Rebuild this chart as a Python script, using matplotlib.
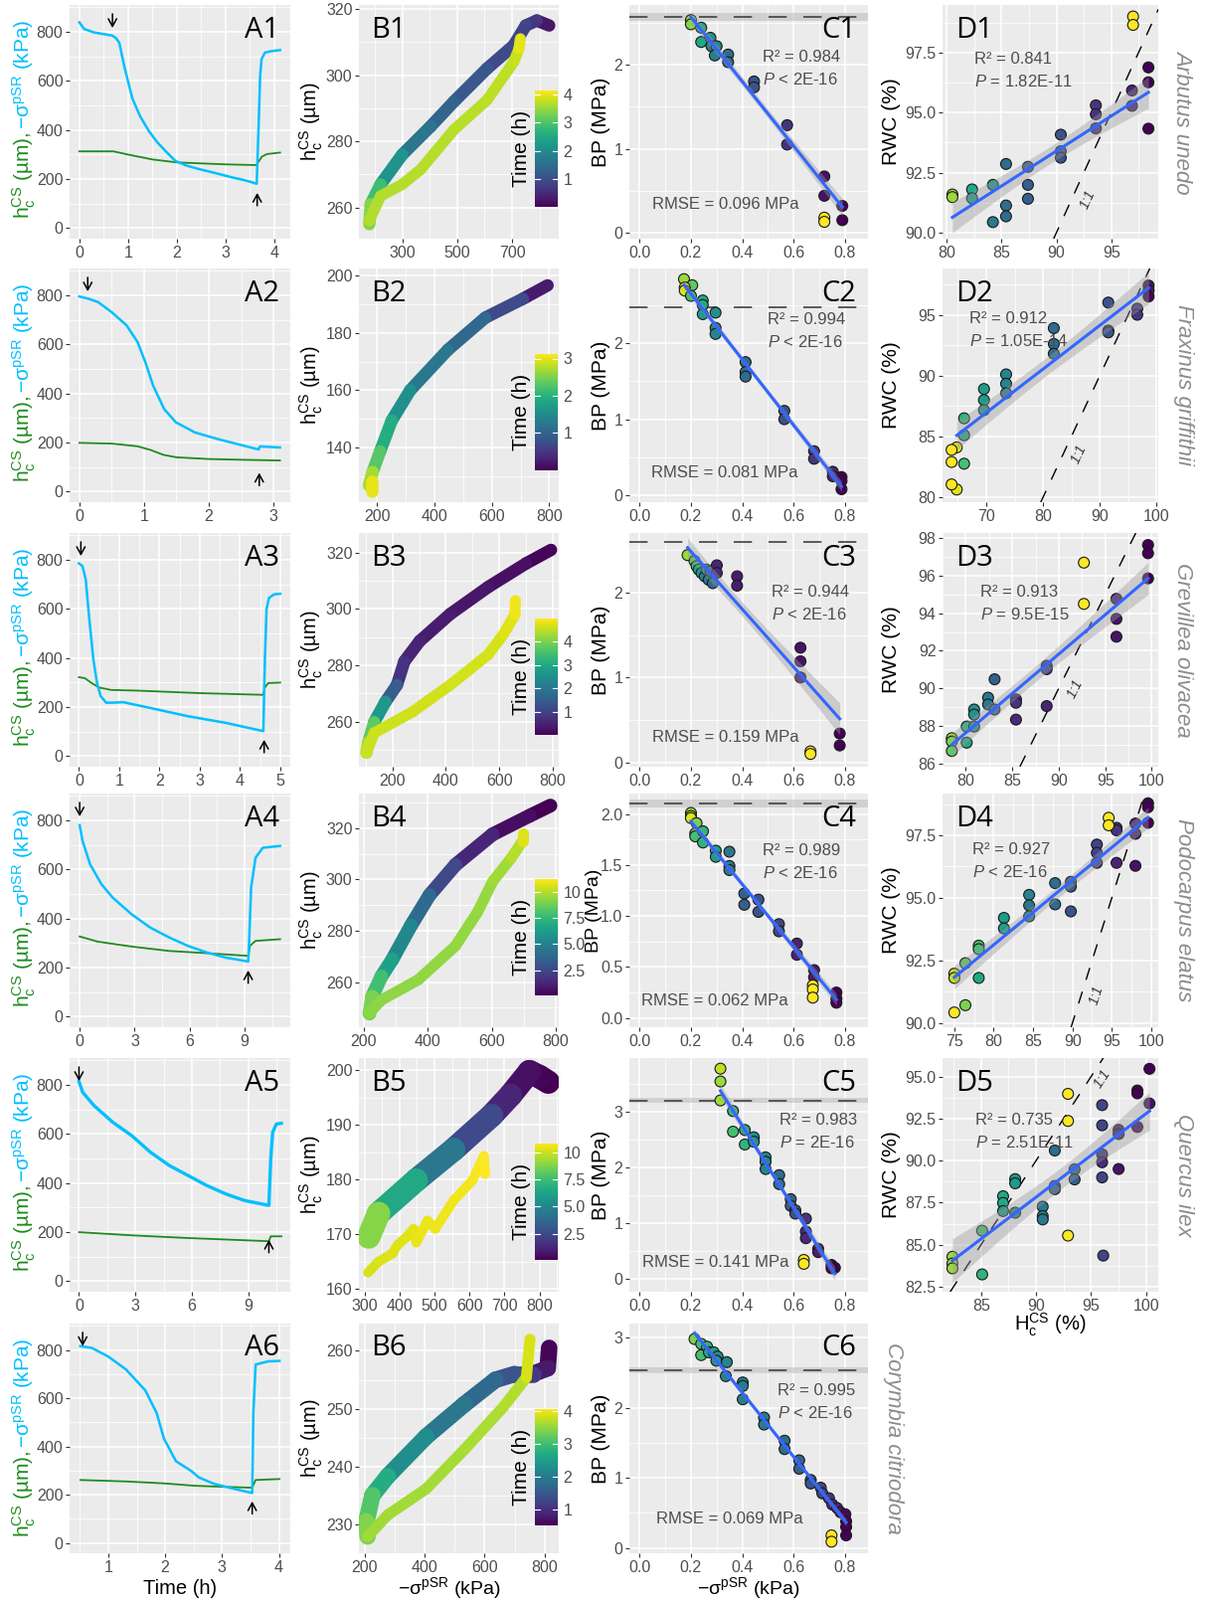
import numpy as np
import matplotlib
matplotlib.use('Agg')
import matplotlib.pyplot as plt
from matplotlib.collections import LineCollection
from matplotlib.colors import Normalize
from matplotlib.ticker import FixedLocator, FormatStrFormatter

plt.rcParams['font.family'] = ['Liberation Sans', 'DejaVu Sans']
plt.rcParams['mathtext.fontset'] = 'custom'
plt.rcParams['mathtext.rm'] = 'Liberation Sans'
plt.rcParams['mathtext.it'] = 'Liberation Sans:italic'
plt.rcParams['mathtext.bf'] = 'Liberation Sans:bold'

# ---------------- data: column A (time courses) ----------------
a1_sig_t = [0, 0.1, 0.3, 0.68, 0.75, 0.82, 0.92, 1.02, 1.09, 1.25, 1.43, 1.6, 1.77, 1.97, 2.2, 2.45, 2.8, 3.13, 3.4, 3.64, 3.68, 3.71, 3.74, 3.81, 3.95, 4.12]
a1_sig = [839, 812, 798, 785, 775, 756, 662, 582, 528, 455, 395, 350, 314, 274, 255, 241, 224, 207, 195, 181, 420, 620, 689, 716, 722, 726]
a1_h_t = [0, 0.7, 1.0, 1.5, 2.0, 3.0, 3.64, 3.68, 3.75, 3.85, 4.12]
a1_h = [313, 313, 300, 280, 268, 260, 257, 272, 292, 302, 308]

a2_sig_t = [0, 0.15, 0.29, 0.5, 0.73, 0.9, 1.02, 1.14, 1.31, 1.49, 1.78, 2.13, 2.53, 2.77, 2.79, 2.82, 3.1]
a2_sig = [796, 786, 773, 732, 678, 610, 528, 433, 337, 283, 242, 215, 188, 172, 184, 184, 180]
a2_h_t = [0, 0.5, 0.9, 1.1, 1.3, 1.5, 2.0, 2.5, 3.1]
a2_h = [199, 196, 185, 170, 150, 140, 133, 130, 127]

a3_sig_t = [0, 0.09, 0.17, 0.26, 0.36, 0.45, 0.54, 0.68, 0.83, 1.1, 1.76, 2.7, 3.64, 4.58, 4.62, 4.66, 4.72, 4.85, 5.0]
a3_sig = [786, 775, 721, 558, 395, 299, 245, 218, 218, 220, 197, 163, 136, 102, 400, 600, 645, 660, 662]
a3_h_t = [0, 0.15, 0.3, 0.5, 0.8, 1.5, 3.0, 4.58, 4.62, 4.7, 5.0]
a3_h = [322, 318, 300, 280, 270, 267, 257, 250, 280, 298, 300]

a4_sig_t = [0, 0.16, 0.57, 1.19, 1.81, 2.83, 3.86, 4.89, 5.9, 6.94, 7.97, 9.2, 9.24, 9.36, 9.6, 10.0, 10.94]
a4_sig = [781, 716, 621, 540, 485, 418, 363, 323, 289, 262, 241, 225, 282, 526, 648, 689, 696]
a4_h_t = [0, 0.99, 2.83, 4.89, 6.94, 9.2, 9.3, 9.6, 10.94]
a4_h = [327, 306, 286, 268, 259, 248, 289, 309, 316]

a5_sig_t = [0, 0.2, 0.8, 1.8, 2.8, 3.8, 4.8, 5.8, 6.8, 7.8, 8.8, 10.1, 10.2, 10.3, 10.5, 10.76]
a5_sig = [814, 770, 716, 648, 594, 526, 472, 431, 390, 356, 329, 309, 499, 607, 641, 644]
a5_h_t = [0, 2.8, 5.8, 8.8, 10.1, 10.2, 10.76]
a5_h = [200, 187, 176, 167, 163, 183, 183]

a6_sig_t = [0.51, 0.71, 1.0, 1.31, 1.65, 1.85, 1.98, 2.19, 2.46, 2.59, 2.86, 3.2, 3.53, 3.55, 3.59, 3.81, 4.01]
a6_sig = [816, 809, 773, 720, 633, 539, 432, 339, 298, 272, 245, 225, 207, 539, 740, 753, 755]
a6_h_t = [0.51, 1.31, 1.98, 2.52, 3.12, 3.53, 3.59, 4.01]
a6_h = [261, 255, 247, 237, 232, 229, 261, 265]

# arrows: start of drying (down) and rewatering (up), in h
a_arrow_down_t = [0.68, 0.13, 0.05, 0.0, 0.0, 0.55]
a_arrow_up_t = [3.65, 2.78, 4.6, 9.2, 10.1, 3.53]
a_arrow_up_tip = [155, 88, 78, 200, 180, 184]

# ---------------- data: column B (h vs sigma, coloured by time) ----------------
b1_dry_x = [835, 790, 750, 706, 609, 488, 403, 300, 221, 185, 180]
b1_dry_y = [315, 316.5, 315, 309, 302, 292, 284.5, 276, 267, 261, 255]
b1_dry_t = [0.0, 0.5, 0.82, 0.88, 1.0, 1.25, 1.43, 1.8, 2.5, 3.2, 3.6]
b1_wet_x = [180, 221, 300, 367, 488, 609, 706, 725, 730]
b1_wet_y = [256, 263.5, 267, 271.5, 283.5, 292.5, 304, 308, 311]
b1_wet_t = [3.64, 3.66, 3.68, 3.69, 3.7, 3.72, 3.75, 3.85, 4.1]

b2_dry_x = [794, 708, 577, 446, 315, 250, 210, 184, 171]
b2_dry_y = [196.7, 192, 185.4, 174.1, 160, 149.3, 138.6, 131.4, 126.7]
b2_dry_t = [0.0, 0.45, 0.95, 1.14, 1.35, 1.75, 2.1, 2.5, 2.9]
b2_wet_x = [180, 180]
b2_wet_y = [128, 124.5]
b2_wet_t = [2.9, 3.1]

b3_dry_x = [793, 700, 558, 416, 302, 245, 217, 174, 132, 110, 103]
b3_dry_y = [321, 316.2, 307.8, 298.2, 288.6, 281.4, 273, 267, 259.8, 252.6, 249]
b3_dry_t = [0.0, 0.15, 0.26, 0.35, 0.45, 0.54, 0.9, 2.0, 3.3, 4.2, 4.55]
b3_wet_x = [103, 132, 274, 345, 416, 558, 615, 658, 660]
b3_wet_y = [249, 256, 263.4, 268.2, 273, 283.8, 291, 298, 303]
b3_wet_t = [4.6, 4.61, 4.63, 4.64, 4.65, 4.67, 4.7, 4.8, 5.0]

b4_dry_x = [783, 719, 603, 487, 406, 348, 290, 256, 227, 219]
b4_dry_y = [328.8, 324.9, 317.6, 305.7, 293.9, 282, 268.8, 262.2, 254.3, 247.7]
b4_dry_t = [0.1, 0.15, 0.8, 1.8, 3.2, 4.7, 5.9, 7.0, 8.7, 9.2]
b4_wet_x = [219, 256, 371, 487, 556, 603, 661, 696, 696]
b4_wet_y = [248, 253, 260.9, 274.1, 287.3, 299.2, 308.4, 315, 318]
b4_wet_t = [9.25, 9.28, 9.32, 9.36, 9.4, 9.5, 9.7, 10.2, 11.0]

b5_dry_x = [825, 800, 771, 717, 663, 555, 448, 340, 312]
b5_dry_y = [197.8, 198.8, 199.7, 195.4, 191.7, 185.5, 179.9, 173.8, 169.5]
b5_dry_t = [0.1, 0.15, 0.3, 0.8, 1.6, 3.4, 5.3, 7.7, 10.0]
b5_wet_x = [310, 340, 380, 394, 420, 440, 448, 480, 502, 555, 609, 641, 645]
b5_wet_y = [163, 165, 166.5, 168, 169.5, 171, 168.5, 172.5, 171, 176.2, 179.9, 184.3, 181]
b5_wet_t = [10.1, 10.15, 10.2, 10.25, 10.3, 10.35, 10.4, 10.45, 10.5, 10.55, 10.6, 10.7, 10.8]

b6_dry_x = [815, 810, 760, 700, 636, 533, 405, 277, 226, 206, 210]
b6_dry_y = [260.5, 257, 256, 256, 255, 250.8, 245.2, 238.4, 235.1, 230.6, 228]
b6_dry_t = [0.51, 0.6, 0.9, 1.3, 1.6, 1.85, 2.0, 2.5, 2.9, 3.3, 3.5]
b6_wet_x = [210, 277, 405, 533, 662, 739, 751]
b6_wet_y = [228, 231.7, 236.2, 243, 250.3, 255.4, 262]
b6_wet_t = [3.55, 3.57, 3.58, 3.6, 3.63, 3.7, 4.0]

b_time_range = [(0, 4.15), (0, 3.12), (0, 5.0), (0.1, 11.2), (0.1, 10.8), (0.51, 4.07)]
b_cbar_ticks = [[1, 2, 3, 4], [1, 2, 3], [1, 2, 3, 4], [2.5, 5, 7.5, 10], [2.5, 5, 7.5, 10], [1, 2, 3, 4]]
b_cbar_labels = [['1', '2', '3', '4'], ['1', '2', '3'], ['1', '2', '3', '4'],
                 ['2.5', '5.0', '7.5', '10'], ['2.5', '5.0', '7.5', '10'], ['1', '2', '3', '4']]

# ---------------- data: column C (BP vs sigma) ----------------
# *_c = relative time colour (0 start, 1 end); *_xr/_yr = rewatered points, not in the fit
c1_x = [0.2, 0.2, 0.24, 0.24, 0.276, 0.28, 0.3, 0.293, 0.345, 0.345, 0.446, 0.446, 0.575, 0.575, 0.72, 0.72, 0.79, 0.79]
c1_y = [2.53, 2.48, 2.44, 2.27, 2.32, 2.22, 2.22, 2.11, 2.12, 2.03, 1.80, 1.73, 1.28, 1.05, 0.67, 0.44, 0.32, 0.15]
c1_c = [0.85, 0.82, 0.6, 0.6, 0.5, 0.45, 0.45, 0.42, 0.35, 0.33, 0.25, 0.25, 0.15, 0.15, 0.05, 0.05, 0.0, 0.0]
c1_xr = [0.72, 0.72]
c1_yr = [0.18, 0.13]

c2_x = [0.173, 0.205, 0.176, 0.176, 0.2, 0.246, 0.246, 0.246, 0.296, 0.296, 0.296, 0.413, 0.413, 0.413, 0.564, 0.564, 0.68, 0.68, 0.753, 0.753, 0.787, 0.787, 0.787]
c2_y = [2.84, 2.76, 2.73, 2.69, 2.62, 2.56, 2.5, 2.38, 2.4, 2.2, 2.12, 1.75, 1.62, 1.56, 1.11, 1.0, 0.58, 0.48, 0.31, 0.25, 0.24, 0.19, 0.08]
c2_c = [0.85, 0.75, 1.0, 0.95, 0.7, 0.6, 0.6, 0.55, 0.5, 0.45, 0.45, 0.35, 0.35, 0.35, 0.25, 0.25, 0.15, 0.15, 0.1, 0.1, 0.0, 0.0, 0.0]
c2_xr = []
c2_yr = []

c3_x = [0.187, 0.214, 0.222, 0.23, 0.241, 0.254, 0.261, 0.269, 0.277, 0.285, 0.301, 0.301, 0.38, 0.38, 0.627, 0.627, 0.627, 0.78, 0.78]
c3_y = [2.44, 2.37, 2.31, 2.27, 2.23, 2.19, 2.27, 2.15, 2.25, 2.11, 2.32, 2.23, 2.19, 2.08, 1.35, 1.19, 1.0, 0.34, 0.2]
c3_c = [0.85, 0.75, 0.7, 0.6, 0.55, 0.45, 0.45, 0.4, 0.35, 0.35, 0.1, 0.12, 0.08, 0.08, 0.05, 0.05, 0.08, 0.0, 0.0]
c3_xr = [0.666, 0.666]
c3_yr = [0.13, 0.1]

c4_x = [0.2, 0.2, 0.2, 0.222, 0.217, 0.217, 0.247, 0.247, 0.297, 0.297, 0.35, 0.35, 0.35, 0.408, 0.408, 0.463, 0.463, 0.543, 0.543, 0.613, 0.613, 0.68, 0.68, 0.767, 0.767, 0.767]
c4_y = [2.01, 1.98, 1.96, 1.91, 1.81, 1.78, 1.83, 1.72, 1.64, 1.58, 1.63, 1.49, 1.45, 1.22, 1.11, 1.16, 1.04, 0.92, 0.85, 0.73, 0.62, 0.47, 0.4, 0.25, 0.19, 0.15]
c4_c = [0.85, 0.9, 0.95, 0.8, 0.75, 0.7, 0.65, 0.65, 0.55, 0.55, 0.4, 0.4, 0.4, 0.3, 0.3, 0.25, 0.25, 0.2, 0.2, 0.1, 0.1, 0.07, 0.07, 0.0, 0.0, 0.0]
c4_xr = [0.675, 0.675, 0.675]
c4_yr = [0.32, 0.28, 0.2]

c5_x = [0.315, 0.315, 0.315, 0.364, 0.364, 0.41, 0.41, 0.445, 0.445, 0.491, 0.491, 0.491, 0.544, 0.544, 0.589, 0.589, 0.607, 0.607, 0.648, 0.648, 0.648, 0.696, 0.696, 0.748, 0.761, 0.748]
c5_y = [3.77, 3.54, 3.2, 3.01, 2.64, 2.67, 2.41, 2.54, 2.46, 2.18, 2.1, 1.97, 1.86, 1.7, 1.43, 1.31, 1.23, 1.17, 1.08, 0.85, 0.73, 0.54, 0.48, 0.25, 0.2, 0.19]
c5_c = [0.9, 0.85, 0.85, 0.65, 0.7, 0.6, 0.65, 0.5, 0.5, 0.45, 0.45, 0.45, 0.35, 0.35, 0.3, 0.3, 0.25, 0.25, 0.15, 0.12, 0.12, 0.08, 0.08, 0.0, 0.0, 0.0]
c5_xr = [0.64, 0.64]
c5_yr = [0.34, 0.27]

c6_x = [0.214, 0.24, 0.24, 0.263, 0.27, 0.289, 0.304, 0.299, 0.34, 0.336, 0.402, 0.402, 0.402, 0.485, 0.485, 0.565, 0.565, 0.622, 0.622, 0.667, 0.667, 0.706, 0.712, 0.738, 0.751, 0.77, 0.783, 0.802, 0.805, 0.805, 0.805]
c6_y = [2.98, 2.91, 2.75, 2.87, 2.79, 2.79, 2.73, 2.67, 2.65, 2.45, 2.36, 2.31, 2.12, 1.86, 1.76, 1.53, 1.41, 1.25, 1.13, 0.97, 0.92, 0.86, 0.78, 0.71, 0.62, 0.57, 0.51, 0.48, 0.38, 0.3, 0.18]
c6_c = [0.8, 0.7, 0.7, 0.65, 0.6, 0.55, 0.5, 0.5, 0.45, 0.45, 0.42, 0.42, 0.42, 0.4, 0.4, 0.35, 0.35, 0.3, 0.3, 0.25, 0.25, 0.2, 0.2, 0.15, 0.12, 0.1, 0.05, 0.02, 0.0, 0.0, 0.0]
c6_xr = [0.748, 0.748]
c6_yr = [0.18, 0.09]

c_bp_line = [2.57, 2.47, 2.6, 2.1, 3.2, 2.53]
c_bp_band = [0.05, 0.0, 0.0, 0.04, 0.05, 0.04]
c_r2 = ['0.984', '0.994', '0.944', '0.989', '0.983', '0.995']
c_p = ['< 2E-16', '< 2E-16', '< 2E-16', '< 2E-16', '= 2E-16', '< 2E-16']
c_rmse = ['0.096', '0.081', '0.159', '0.062', '0.141', '0.069']

# ---------------- data: column D (RWC vs Hc) ----------------
d1_x = [80.5, 80.5, 82.3, 82.3, 84.2, 84.2, 85.4, 85.4, 85.4, 87.4, 87.4, 87.4, 90.4, 90.4, 90.4, 93.6, 93.6, 93.6, 96.9, 96.9, 98.4, 98.4, 98.4]
d1_y = [91.59, 91.48, 91.8, 91.43, 91.99, 90.44, 92.86, 91.13, 90.68, 92.74, 91.99, 91.41, 94.08, 93.39, 93.12, 95.3, 94.93, 94.34, 95.92, 95.28, 96.88, 96.26, 94.33]
d1_c = [0.85, 0.85, 0.6, 0.55, 0.5, 0.4, 0.35, 0.35, 0.35, 0.3, 0.3, 0.3, 0.25, 0.25, 0.25, 0.15, 0.15, 0.15, 0.1, 0.1, 0.0, 0.0, 0.0]
d1_xr = [97.0, 97.0]
d1_yr = [99.0, 98.65]

d2_x = [64.8, 64.8, 66.1, 66.1, 66.1, 69.6, 69.6, 69.6, 73.5, 73.5, 73.5, 81.9, 81.9, 81.9, 91.5, 91.5, 91.5, 96.6, 96.6, 98.6, 98.6, 98.6]
d2_y = [84.1, 80.64, 86.49, 85.1, 82.76, 88.9, 87.99, 87.16, 90.1, 89.33, 88.55, 93.9, 92.6, 91.8, 96.0, 93.7, 93.55, 95.5, 95.0, 97.4, 97.0, 96.5]
d2_c = [0.95, 0.95, 0.65, 0.6, 0.7, 0.55, 0.55, 0.5, 0.45, 0.45, 0.4, 0.35, 0.35, 0.35, 0.25, 0.25, 0.25, 0.15, 0.15, 0.05, 0.05, 0.0]
d2_xr = [63.9, 63.9, 63.9]
d2_yr = [83.9, 82.9, 81.06]

d3_x = [78.5, 78.5, 78.5, 80.1, 80.1, 80.9, 80.9, 80.9, 82.4, 82.4, 83.1, 83.1, 85.4, 85.4, 85.4, 88.7, 88.7, 88.7, 96.2, 96.2, 96.2, 99.6, 99.6, 99.6]
d3_y = [87.34, 87.16, 86.66, 87.96, 87.1, 88.87, 88.6, 87.96, 89.5, 89.14, 90.48, 88.87, 89.41, 89.23, 88.33, 91.2, 91.02, 89.05, 94.77, 93.7, 92.75, 97.64, 97.2, 95.86]
d3_c = [0.85, 0.8, 0.75, 0.65, 0.6, 0.5, 0.5, 0.5, 0.4, 0.4, 0.3, 0.35, 0.15, 0.15, 0.12, 0.2, 0.2, 0.1, 0.1, 0.05, 0.05, 0.0, 0.0, 0.0]
d3_xr = [92.7, 92.7]
d3_yr = [96.7, 94.5]

d4_x = [75.0, 75.0, 76.4, 76.4, 78.1, 78.1, 78.1, 81.3, 81.3, 84.5, 84.5, 84.5, 87.8, 87.8, 89.8, 89.8, 89.8, 93.1, 93.1, 93.1, 95.6, 95.6, 95.6, 98.0, 98.0, 98.0, 99.6, 99.6, 99.6]
d4_y = [91.97, 91.8, 92.39, 90.71, 93.09, 92.95, 91.8, 94.2, 93.78, 95.12, 94.7, 94.26, 95.59, 94.74, 95.64, 95.45, 94.46, 97.13, 96.8, 96.4, 97.8, 97.7, 96.4, 97.97, 97.56, 96.28, 98.78, 98.62, 98.0]
d4_c = [0.9, 0.9, 0.75, 0.8, 0.7, 0.7, 0.6, 0.55, 0.55, 0.45, 0.4, 0.4, 0.35, 0.35, 0.3, 0.3, 0.25, 0.2, 0.2, 0.2, 0.15, 0.15, 0.1, 0.1, 0.1, 0.05, 0.0, 0.0, 0.0]
d4_xr = [75.0, 94.6, 94.6]
d4_yr = [90.42, 98.2, 97.9]

d5_x = [82.4, 82.4, 82.4, 85.1, 85.1, 87.0, 87.0, 87.0, 88.1, 88.1, 88.1, 90.6, 90.6, 90.6, 91.7, 91.7, 91.7, 93.5, 93.5, 96.0, 96.0, 96.0, 96.0, 96.0, 96.1, 97.5, 97.5, 97.5, 99.2, 99.2, 99.2, 100.3, 100.3]
d5_y = [84.28, 83.88, 83.59, 85.83, 83.23, 87.88, 87.48, 87.0, 88.9, 88.65, 86.9, 87.26, 86.7, 86.5, 90.6, 88.49, 88.3, 89.48, 88.88, 93.3, 92.1, 90.37, 89.9, 89.0, 84.35, 91.83, 91.58, 89.5, 94.17, 94.0, 92.0, 95.46, 93.4]
d5_c = [0.85, 0.85, 0.85, 0.7, 0.65, 0.6, 0.6, 0.55, 0.55, 0.55, 0.45, 0.4, 0.4, 0.4, 0.35, 0.3, 0.3, 0.3, 0.3, 0.2, 0.2, 0.15, 0.12, 0.2, 0.2, 0.12, 0.12, 0.05, 0.0, 0.0, 0.05, 0.0, 0.05]
d5_xr = [92.9, 92.9, 92.9]
d5_yr = [93.97, 92.36, 85.54]

d_r2 = ['0.841', '0.912', '0.913', '0.927', '0.735']
d_p = ['= 1.82E-11', '= 1.05E-14', '= 9.5E-15', '< 2E-16', '= 2.51E-11']

species = ['Arbutus unedo', 'Fraxinus griffithii', 'Grevillea olivacea',
           'Podocarpus elatus', 'Quercus ilex', 'Corymbia citriodora']

# ---------------- layout (pixels) ----------------
W, H = 1212, 1609
col_left = [70, 361, 633, 948]
col_w = [222, 201, 240, 217]
row_top = [5, 270, 536, 798, 1064, 1331]
row_hs = [235, 235, 235, 235, 235, 231]

BLUE = '#00BFFF'
GREEN = '#1E8B1E'
TICKC = '#4D4D4D'
FIT = '#3366FF'

fig = plt.figure(figsize=(W / 100, H / 100), dpi=100)


def px_axes(left, top, w, h):
    return fig.add_axes([left / W, 1 - (top + h) / H, w / W, h / H])


def ftext(x, y, s, **kw):
    return fig.text(x / W, 1 - y / H, s, **kw)


def style(ax, xlim, ylim, xt, yt, xfmt=None, yfmt=None):
    ax.set_facecolor('#EBEBEB')
    for s in ax.spines.values():
        s.set_visible(False)
    ax.set_xlim(xlim)
    ax.set_ylim(ylim)
    xs = xt[1] - xt[0]
    ys = yt[1] - yt[0]
    ax.xaxis.set_major_locator(FixedLocator(xt))
    ax.yaxis.set_major_locator(FixedLocator(yt))
    ax.xaxis.set_minor_locator(FixedLocator(np.arange(xt[0] - xs / 2, xt[-1] + xs, xs)))
    ax.yaxis.set_minor_locator(FixedLocator(np.arange(yt[0] - ys / 2, yt[-1] + ys, ys)))
    if xfmt:
        ax.xaxis.set_major_formatter(FormatStrFormatter(xfmt))
    if yfmt:
        ax.yaxis.set_major_formatter(FormatStrFormatter(yfmt))
    ax.grid(which='major', color='white', lw=1.1)
    ax.grid(which='minor', color='white', lw=0.55)
    ax.set_axisbelow(True)
    ax.tick_params(which='major', length=3.2, width=0.8, color='#333333',
                   labelsize=11.5, labelcolor=TICKC, pad=1.5)
    ax.tick_params(which='minor', length=0)


def panel_label(ax, s, right):
    if right:
        ax.text(0.95, 0.955, s, transform=ax.transAxes, ha='right', va='top',
                fontsize=21, family='Open Sans')
    else:
        ax.text(0.06, 0.955, s, transform=ax.transAxes, ha='left', va='top',
                fontsize=21, family='Open Sans')


ARROW = dict(arrowstyle='->,head_width=0.3,head_length=0.55', color='black', lw=1.1)

# ---------------- column A ----------------
a_data = [(a1_sig_t, a1_sig, a1_h_t, a1_h), (a2_sig_t, a2_sig, a2_h_t, a2_h),
          (a3_sig_t, a3_sig, a3_h_t, a3_h), (a4_sig_t, a4_sig, a4_h_t, a4_h),
          (a5_sig_t, a5_sig, a5_h_t, a5_h), (a6_sig_t, a6_sig, a6_h_t, a6_h)]
a_xlim = [(-0.2, 4.33), (-0.15, 3.26), (-0.23, 5.25), (-0.55, 11.5), (-0.5, 11.24), (0.32, 4.2)]
a_xt = [[0, 1, 2, 3, 4], [0, 1, 2, 3], [0, 1, 2, 3, 4, 5], [0, 3, 6, 9], [0, 3, 6, 9], [1, 2, 3, 4]]

for i, (st, sv, ht, hv) in enumerate(a_data):
    ax = px_axes(col_left[0], row_top[i], col_w[0], row_hs[i])
    style(ax, a_xlim[i], (-43, 910), a_xt[i], [0, 200, 400, 600, 800])
    ax.plot(ht, hv, color=GREEN, lw=1.3)
    ax.plot(st, sv, color=BLUE, lw=1.8 if i != 4 else 2.4)
    ax.annotate('', xy=(a_arrow_down_t[i], 805), xytext=(a_arrow_down_t[i], 885), arrowprops=ARROW)
    ax.annotate('', xy=(a_arrow_up_t[i], a_arrow_up_tip[i]),
                xytext=(a_arrow_up_t[i], a_arrow_up_tip[i] - 75), arrowprops=ARROW)
    panel_label(ax, 'A%d' % (i + 1), True)
    ysplit = row_top[i] + 125
    ftext(30, ysplit, r'$\mathregular{h_c^{CS}}$ (µm), ', rotation=90, rotation_mode='anchor',
          ha='right', va='baseline', color=GREEN, fontsize=15)
    ftext(30, ysplit, '−σ$^{\\mathregular{pSR}}$ (kPa)', rotation=90, rotation_mode='anchor',
          ha='left', va='baseline', color=BLUE, fontsize=15)

XLAB_Y = 1603
ftext(181, XLAB_Y, 'Time (h)', ha='center', va='baseline', fontsize=14.5)

# ---------------- column B ----------------
b_data = [(b1_dry_x, b1_dry_y, b1_dry_t, b1_wet_x, b1_wet_y, b1_wet_t),
          (b2_dry_x, b2_dry_y, b2_dry_t, b2_wet_x, b2_wet_y, b2_wet_t),
          (b3_dry_x, b3_dry_y, b3_dry_t, b3_wet_x, b3_wet_y, b3_wet_t),
          (b4_dry_x, b4_dry_y, b4_dry_t, b4_wet_x, b4_wet_y, b4_wet_t),
          (b5_dry_x, b5_dry_y, b5_dry_t, b5_wet_x, b5_wet_y, b5_wet_t),
          (b6_dry_x, b6_dry_y, b6_dry_t, b6_wet_x, b6_wet_y, b6_wet_t)]
b_xlim = [(142, 870), (136, 833), (75, 822), (186, 809), (284, 855), (181, 847)]
b_ylim = [(250.6, 321.2), (120.8, 202.6), (244, 327), (242.4, 333.5), (159.5, 202.2), (225.1, 264.7)]
b_xt = [[300, 500, 700], [200, 400, 600, 800], [200, 400, 600, 800], [200, 400, 600, 800],
        [300, 400, 500, 600, 700, 800], [200, 400, 600, 800]]
b_yt = [[260, 280, 300, 320], [140, 160, 180, 200], [260, 280, 300, 320], [260, 280, 300, 320],
        [160, 170, 180, 190, 200], [230, 240, 250, 260]]
b_lw = [(9, 8), (9, 9), (9, 8), (10, 8), (17, 7), (12, 8)]


def band(ax, xs, ys, ts, lw, norm):
    pts = np.column_stack([xs, ys])
    segs = np.stack([pts[:-1], pts[1:]], axis=1)
    tt = np.asarray(ts, float)
    lc = LineCollection(segs, cmap='viridis', norm=norm, linewidths=lw,
                        capstyle='round', joinstyle='round')
    lc.set_array((tt[:-1] + tt[1:]) / 2)
    ax.add_collection(lc)


for i, (dx, dy, dt, wx, wy, wt) in enumerate(b_data):
    ax = px_axes(col_left[1], row_top[i], col_w[1], row_hs[i])
    style(ax, b_xlim[i], b_ylim[i], b_xt[i], b_yt[i])
    norm = Normalize(*b_time_range[i])
    band(ax, dx, dy, dt, b_lw[i][0], norm)
    band(ax, wx, wy, wt, b_lw[i][1], norm)
    panel_label(ax, 'B%d' % (i + 1), False)
    ftext(313, row_top[i] + row_hs[i] / 2, r'$\mathregular{h_c^{CS}}$ (µm)', rotation=90,
          ha='center', va='center', fontsize=14.5)

    # colour bar inside the panel
    tmin, tmax = b_time_range[i]
    cax = px_axes(538, row_top[i] + 86, 23, 117)
    cax.imshow(np.linspace(tmin, tmax, 256).reshape(-1, 1), aspect='auto', cmap='viridis',
               origin='lower', extent=(0, 1, tmin, tmax))
    cax.set_xlim(0, 1)
    cax.set_ylim(tmin, tmax)
    cax.set_xticks([])
    cax.yaxis.tick_right()
    cax.set_yticks(b_cbar_ticks[i])
    cax.set_yticklabels(b_cbar_labels[i])
    cax.tick_params(length=0, labelsize=11.5, labelcolor=TICKC, pad=4)
    for s in cax.spines.values():
        s.set_visible(False)
    for tk in b_cbar_ticks[i]:
        cax.plot([0, 0.2], [tk, tk], color='white', lw=0.8)
        cax.plot([0.8, 1], [tk, tk], color='white', lw=0.8)
    cax.yaxis.set_label_position('left')
    cax.set_ylabel('Time (h)', fontsize=15, labelpad=3)

ftext(452, XLAB_Y, '−σ$^{\\mathregular{pSR}}$ (kPa)', ha='center', va='baseline', fontsize=14)


# ---------------- regression helper ----------------
def fit_plot(ax, x, y):
    x = np.asarray(x, float)
    y = np.asarray(y, float)
    b, a = np.polyfit(x, y, 1)
    xx = np.linspace(x.min(), x.max(), 80)
    yy = a + b * xx
    res = y - (a + b * x)
    n = len(x)
    s = np.sqrt(np.sum(res ** 2) / (n - 2))
    se = s * np.sqrt(1 / n + (xx - x.mean()) ** 2 / np.sum((x - x.mean()) ** 2))
    ax.fill_between(xx, yy - 2.05 * se, yy + 2.05 * se, color='#999999', alpha=0.4, lw=0, zorder=3)
    ax.plot(xx, yy, color=FIT, lw=2.2, zorder=4)


def points(ax, x, y, c):
    ax.scatter(x, y, c=c, cmap='viridis', vmin=0, vmax=1, s=62, edgecolors='#1A1A1A',
               linewidths=0.8, zorder=2)


# ---------------- column C ----------------
c_data = [(c1_x, c1_y, c1_c, c1_xr, c1_yr), (c2_x, c2_y, c2_c, c2_xr, c2_yr),
          (c3_x, c3_y, c3_c, c3_xr, c3_yr), (c4_x, c4_y, c4_c, c4_xr, c4_yr),
          (c5_x, c5_y, c5_c, c5_xr, c5_yr), (c6_x, c6_y, c6_c, c6_xr, c6_yr)]
c_ylim = [(-0.07, 2.71), (-0.09, 2.98), (-0.05, 2.70), (-0.09, 2.2), (-0.23, 3.96), (-0.075, 3.2)]
c_yt = [[0, 1, 2], [0, 1, 2], [0, 1, 2], [0, 0.5, 1.0, 1.5, 2.0], [0, 1, 2, 3], [0, 1, 2, 3]]
c_yfmt = [None, None, None, '%.1f', None, None]
c_ylab_x = [604, 604, 604, 597, 604, 604]
c_txt = [(0.48, 2.09, 0.05, 0.34), (0.5, 2.31, 0.047, 0.30), (0.515, 2.0, 0.048, 0.29),
         (0.48, 1.64, 0.005, 0.17), (0.546, 2.85, 0.01, 0.29), (0.539, 2.24, 0.064, 0.41)]

for i, (x, y, c, xr, yr) in enumerate(c_data):
    ax = px_axes(col_left[2], row_top[i], col_w[2], row_hs[i])
    style(ax, (-0.04, 0.89), c_ylim[i], [0, 0.2, 0.4, 0.6, 0.8], c_yt[i], xfmt='%.1f', yfmt=c_yfmt[i])
    if c_bp_band[i] > 0:
        ax.axhspan(c_bp_line[i] - c_bp_band[i], c_bp_line[i] + c_bp_band[i], color='#BEBEBE', alpha=0.6, lw=0, zorder=1)
    ax.axhline(c_bp_line[i], color='#404040', lw=1.2, dashes=(11, 10), zorder=1)
    points(ax, x, y, c)
    if xr:
        points(ax, xr, yr, [1.0] * len(xr))
    fit_plot(ax, x, y)
    tx, ty, rx, ry = c_txt[i]
    dy = (c_ylim[i][1] - c_ylim[i][0]) * 0.095
    ax.text(tx, ty, 'R² = ' + c_r2[i], fontsize=12, color=TICKC, va='center', zorder=5)
    ax.text(tx, ty - dy, r'$\mathit{P}$ ' + c_p[i], fontsize=12, color=TICKC, va='center', zorder=5)
    ax.text(rx, ry, 'RMSE = %s MPa' % c_rmse[i], fontsize=12, color=TICKC, va='center', zorder=5)
    panel_label(ax, 'C%d' % (i + 1), True)
    ftext(c_ylab_x[i], row_top[i] + row_hs[i] / 2, 'BP (MPa)', rotation=90, ha='center', va='center',
          fontsize=15 if i != 3 else 14)

ftext(753, XLAB_Y, '−σ$^{\\mathregular{pSR}}$ (kPa)', ha='center', va='baseline', fontsize=14)

# ---------------- column D ----------------
d_data = [(d1_x, d1_y, d1_c, d1_xr, d1_yr), (d2_x, d2_y, d2_c, d2_xr, d2_yr),
          (d3_x, d3_y, d3_c, d3_xr, d3_yr), (d4_x, d4_y, d4_c, d4_xr, d4_yr),
          (d5_x, d5_y, d5_c, d5_xr, d5_yr)]
d_xlim = [(79.6, 99.3), (62.3, 100.3), (77.5, 100.7), (73.5, 100.9), (81.5, 101.1)]
d_ylim = [(89.75, 99.48), (79.6, 98.8), (85.82, 98.28), (89.83, 99.17), (82.2, 96.1)]
d_xt = [[80, 85, 90, 95], [70, 80, 90, 100], [80, 85, 90, 95, 100], [75, 80, 85, 90, 95, 100], [85, 90, 95, 100]]
d_yt = [[90, 92.5, 95, 97.5], [80, 85, 90, 95], [86, 88, 90, 92, 94, 96, 98], [90, 92.5, 95, 97.5],
        [82.5, 85, 87.5, 90, 92.5, 95]]
d_yfmt = ['%.1f', None, None, '%.1f', '%.1f']
d_txt = [(82.5, 97.23), (67.1, 94.65), (81.55, 95.14), (77.26, 96.93), (84.45, 92.42)]
d_one = [(92.9, 91.4), (86.3, 83.6), (91.8, 90.0), (93.1, 91.1), (96.0, 94.9)]

for i, (x, y, c, xr, yr) in enumerate(d_data):
    ax = px_axes(col_left[3], row_top[i], col_w[3], row_hs[i])
    style(ax, d_xlim[i], d_ylim[i], d_xt[i], d_yt[i], yfmt=d_yfmt[i])
    ax.axline((90, 90), slope=1, color='black', lw=1.0, dashes=(9, 9), zorder=1)
    ax.text(d_one[i][0], d_one[i][1], '1:1', rotation=45, transform_rotates_text=True,
            rotation_mode='anchor', ha='center', va='center', fontsize=10,
            style='italic', color='#333333', zorder=1)
    points(ax, x, y, c)
    points(ax, xr, yr, [1.0] * len(xr))
    fit_plot(ax, x, y)
    tx, ty = d_txt[i]
    dy = (d_ylim[i][1] - d_ylim[i][0]) * 0.095
    ax.text(tx, ty, 'R² = ' + d_r2[i], fontsize=12, color=TICKC, va='center', zorder=5)
    ax.text(tx, ty - dy, r'$\mathit{P}$ ' + d_p[i], fontsize=12, color=TICKC, va='center', zorder=5)
    panel_label(ax, 'D%d' % (i + 1), False)
    ftext(897, row_top[i] + row_hs[i] / 2, 'RWC (%)', rotation=90, ha='center', va='center', fontsize=15)

ftext(1056, 1332, r'$\mathregular{H_c^{CS}}$ (%)', ha='center', va='center', fontsize=14.5)

# species names on the right
for i, name in enumerate(species):
    xpos = 1190 if i < 5 else 898
    ftext(xpos, row_top[i] + row_hs[i] / 2, name, rotation=-90, ha='center', va='center',
          fontsize=16, style='italic', color='#8C8C8C')

fig.savefig('out.png', dpi=100)
